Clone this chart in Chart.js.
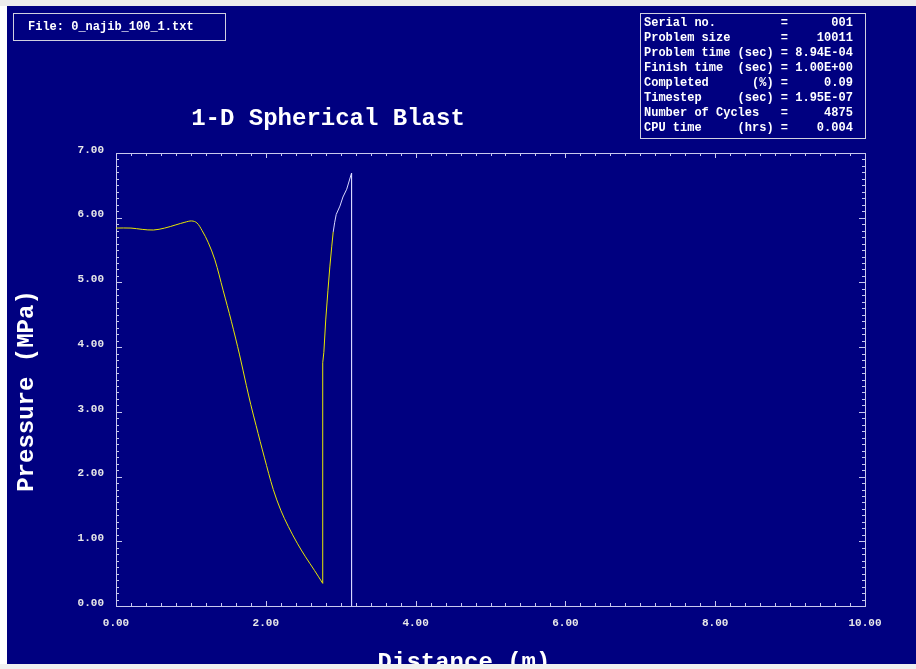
<!DOCTYPE html>
<html><head><meta charset="utf-8">
<script src="https://cdn.jsdelivr.net/npm/chart.js@4"></script>
<style>html,body{margin:0;padding:0;background:#fff;overflow:hidden}#wrap{position:relative;width:916px;height:669px}</style>
</head><body><div id="wrap"><canvas id="c"></canvas></div>
<script>
// ---- data ----
const distCurve   = [0, 0.2, 0.35, 0.5, 0.65, 0.8, 0.92, 1.01, 1.08, 1.15, 1.23, 1.32, 1.43, 1.54, 1.65, 1.74, 1.80, 1.87, 1.98, 2.10, 2.20, 2.30, 2.42, 2.53, 2.65, 2.76];
const pressCurve  = [5.84, 5.84, 5.82, 5.81, 5.84, 5.89, 5.93, 5.95, 5.92, 5.80, 5.62, 5.35, 4.88, 4.40, 3.88, 3.41, 3.11, 2.79, 2.30, 1.80, 1.48, 1.23, 0.97, 0.76, 0.55, 0.35];
const distFront   = [2.76, 2.76, 2.775, 2.80, 2.83, 2.855, 2.88, 2.90];
const pressFront  = [0.35, 3.76, 3.92, 4.42, 4.88, 5.24, 5.55, 5.78];
const distWhite   = [2.90, 2.92, 2.94, 2.99, 3.03, 3.08, 3.145, 3.145];
const pressWhite  = [5.78, 5.93, 6.05, 6.18, 6.32, 6.44, 6.69, 0];
const chartTitle = '1-D Spherical Blast';
const xTitle = 'Distance (m)';
const yTitle = 'Pressure (MPa)';
const fileLabel = 'File: 0_najib_100_1.txt';
const infoLabels = ['Serial no.', 'Problem size', 'Problem time (sec)', 'Finish time  (sec)', 'Completed      (%)', 'Timestep     (sec)', 'Number of Cycles', 'CPU time     (hrs)'];
const infoValues = ['001', '10011', '8.94E-04', '1.00E+00', '0.09', '1.95E-07', '4875', '0.004'];
const xRange = [0, 10];
const yRange = [0, 7];

const toPts = (xs, ys) => xs.map((x, i) => ({x: x, y: ys[i]}));
const NAVY = '#000080', AXIS = '#c8c8ee', YEL = '#e8e800';
const MONO = '"Liberation Mono", "DejaVu Sans Mono", monospace';

const framePlugin = {
  id: 'frame',
  beforeDraw(chart) {
    const ctx = chart.ctx;
    ctx.save();
    ctx.fillStyle = '#ffffff'; ctx.fillRect(0, 0, 916, 669);
    ctx.fillStyle = '#ececec'; ctx.fillRect(0, 0, 916, 6);
    ctx.fillStyle = NAVY; ctx.fillRect(7, 6, 909, 658);
    ctx.restore();
  },
  afterDraw(chart) {
    const ctx = chart.ctx;
    const {left, right, top, bottom} = chart.chartArea;
    const xs = chart.scales.x, ys = chart.scales.y;
    ctx.save();
    ctx.strokeStyle = AXIS; ctx.lineWidth = 1;
    ctx.beginPath();
    ctx.moveTo(left, Math.round(top) + 0.5); ctx.lineTo(right, Math.round(top) + 0.5);
    ctx.moveTo(Math.round(right) + 0.5, top); ctx.lineTo(Math.round(right) + 0.5, bottom);
    for (let i = 0; i <= 50; i++) {
      const px = Math.round(xs.getPixelForValue(i * 0.2)) + 0.5;
      const len = (i % 10 === 0) ? 5 : 3;
      ctx.moveTo(px, bottom); ctx.lineTo(px, bottom - len);
      ctx.moveTo(px, top); ctx.lineTo(px, top + len);
    }
    for (let i = 0; i <= 70; i++) {
      const py = Math.round(ys.getPixelForValue(i / 10)) + 0.5;
      const len = (i % 10 === 0) ? 6 : 3;
      ctx.moveTo(left, py); ctx.lineTo(left + len, py);
      ctx.moveTo(right, py); ctx.lineTo(right - len, py);
    }
    ctx.stroke();

    ctx.strokeStyle = '#d0d0e0';
    ctx.strokeRect(13.5, 13.5, 212, 27);
    ctx.strokeRect(640.5, 13.5, 225, 125);

    ctx.fillStyle = '#ffffff';
    ctx.font = 'bold 12px ' + MONO;
    ctx.textBaseline = 'middle'; ctx.textAlign = 'left';
    ctx.fillText(fileLabel, 28, 27);
    infoLabels.forEach((lab, i) => {
      const line = lab.padEnd(19) + '= ' + infoValues[i].padStart(8);
      ctx.fillText(line, 644, 23 + i * 15);
    });

    ctx.font = 'bold 24px ' + MONO;
    ctx.textAlign = 'center';
    ctx.fillText(chartTitle, 328, 119);

    ctx.save();
    ctx.translate(27, 391);
    ctx.rotate(-Math.PI / 2);
    ctx.fillText(yTitle, 0, 0);
    ctx.restore();

    ctx.textBaseline = 'alphabetic';
    ctx.fillText(xTitle, 464, 669);

    ctx.fillStyle = '#f0f0f0';
    ctx.fillRect(0, 664, 916, 5);
    ctx.restore();
  }
};

new Chart(document.getElementById('c'), {
  type: 'scatter',
  data: {
    datasets: [
      {data: toPts(distCurve, pressCurve), showLine: true, borderColor: YEL, borderWidth: 1, pointRadius: 0, tension: 0.35, fill: false},
      {data: toPts(distFront, pressFront), showLine: true, borderColor: YEL, borderWidth: 1, pointRadius: 0, tension: 0, fill: false},
      {data: toPts(distWhite, pressWhite), showLine: true, borderColor: '#d8d8ff', borderWidth: 1, pointRadius: 0, tension: 0, fill: false}
    ]
  },
  options: {
    responsive: true, maintainAspectRatio: false, animation: false,
    layout: {padding: {left: 0, top: 153, right: 51, bottom: 0}},
    plugins: {legend: {display: false}, tooltip: {enabled: false}},
    scales: {
      x: {
        type: 'linear', min: xRange[0], max: xRange[1],
        ticks: {stepSize: 2, color: '#e8e8e8', font: {family: MONO, size: 11, weight: 'bold'}, padding: 3, maxRotation: 0, autoSkip: false, callback: v => Number(v).toFixed(2)},
        grid: {display: false},
        border: {display: true, color: AXIS, width: 1},
        afterFit(s) { s.height = 63; }
      },
      y: {
        type: 'linear', min: yRange[0], max: yRange[1],
        ticks: {stepSize: 1, color: '#e8e8e8', font: {family: MONO, size: 11, weight: 'bold'}, padding: 4, labelOffset: -3, callback: v => Number(v).toFixed(2)},
        grid: {display: false},
        border: {display: true, color: AXIS, width: 1},
        afterFit(s) { s.width = 116; }
      }
    }
  },
  plugins: [framePlugin]
});
</script></body></html>
